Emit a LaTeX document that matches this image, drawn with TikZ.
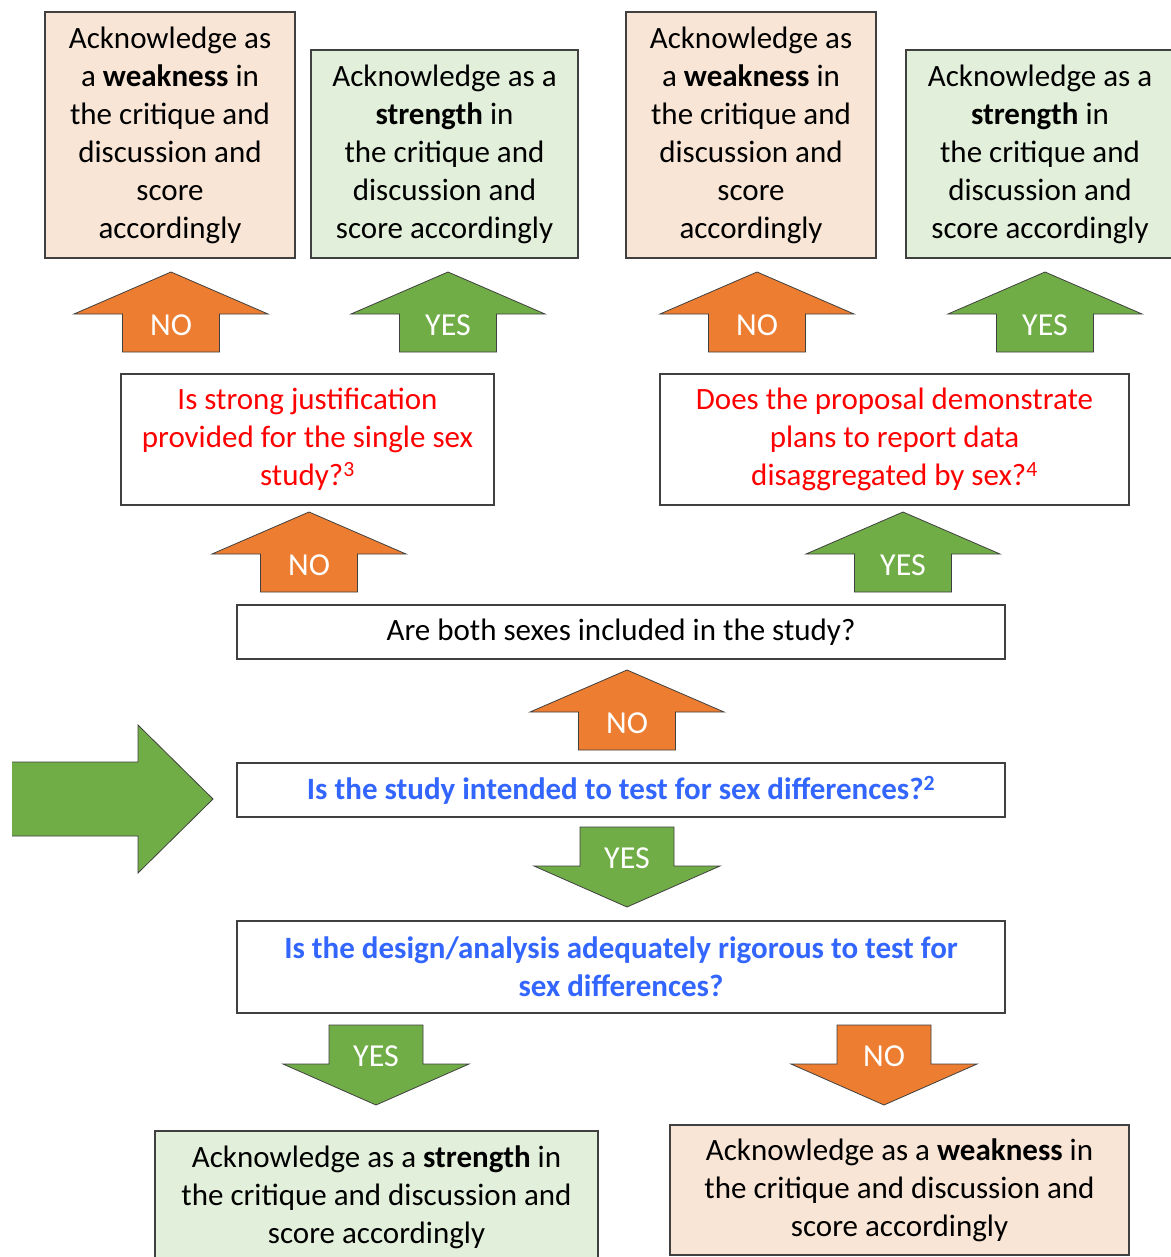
\documentclass[tikz,border=0pt]{standalone}
\usepackage{fontspec}
\setmainfont{Carlito}
\definecolor{arrorange}{HTML}{ED7D31}
\definecolor{arrgreen}{HTML}{70AD47}
\definecolor{weakfill}{HTML}{F8E5D5}
\definecolor{strongfill}{HTML}{E2EFDA}
\definecolor{qblue}{HTML}{3366FF}
\definecolor{qred}{HTML}{FF0000}
\definecolor{edge}{HTML}{404040}
\tikzset{
  box/.style={draw=edge, line width=1.4pt, align=center, inner sep=0pt,
    font=\fontsize{31}{38}\selectfont},
  weakbox/.style={box, fill=weakfill},
  strongbox/.style={box, fill=strongfill},
  arrlabel/.style={text=white, font=\fontsize{32}{36}\selectfont},
}
\begin{document}
\begin{tikzpicture}[x=1pt, y=-1pt]
\useasboundingbox (0,0) rectangle (1170,1257);
\fill[white] (0,0) rectangle (1170,1257);
% top row of verdict boxes
\node[weakbox, minimum width=250, minimum height=246] (weakA) at (170,135)
  {Acknowledge as\\ a \textbf{weakness} in\\ the critique and\\ discussion and\\ score\\ accordingly};
\node[strongbox, minimum width=267, minimum height=208] (strongA) at (444.5,154)
  {Acknowledge as a\\ \textbf{strength} in\\ the critique and\\ discussion and\\ score accordingly};
\node[weakbox, minimum width=250, minimum height=246] (weakB) at (751,135)
  {Acknowledge as\\ a \textbf{weakness} in\\ the critique and\\ discussion and\\ score\\ accordingly};
\node[strongbox, minimum width=268, minimum height=208] (strongB) at (1040,154)
  {Acknowledge as a\\ \textbf{strength} in\\ the critique and\\ discussion and\\ score accordingly};
% questions
\node[box, text=qred, minimum width=373, minimum height=131] (justif) at (307.5,439.5)
  {Is strong justification\\ provided for the single sex\\ study?\textsuperscript{3}};
\node[box, text=qred, minimum width=469, minimum height=131] (disagg) at (894.5,439.5)
  {Does the proposal demonstrate\\ plans to report data\\ disaggregated by sex?\textsuperscript{4}};
\node[box, minimum width=768, minimum height=54] (bothsex) at (621,632)
  {Are both sexes included in the study?};
\node[box, text=qblue, minimum width=768, minimum height=54] (intended) at (621,790)
  {\textbf{Is the study intended to test for sex differences?\textsuperscript{2}}};
\node[box, text=qblue, minimum width=768, minimum height=92] (rigorous) at (621,967)
  {\textbf{Is the design/analysis adequately rigorous to test for}\\ \textbf{sex differences?}};
% bottom verdict boxes
\node[strongbox, minimum width=443, minimum height=132] (strongC) at (376.5,1197)
  {Acknowledge as a \textbf{strength} in\\ the critique and discussion and\\ score accordingly};
\node[weakbox, minimum width=459, minimum height=130] (weakC) at (899.5,1190)
  {Acknowledge as a \textbf{weakness} in\\ the critique and discussion and\\ score accordingly};
% start arrow
\fill[arrgreen] (12,762) -- (138,762) -- (138,725) -- (213,799) -- (138,873) -- (138,836) -- (12,836) -- cycle;
\draw[edge, line width=0.8pt] (12,762) -- (138,762) -- (138,725) -- (213,799) -- (138,873) -- (138,836) -- (12,836);
% up arrows
\foreach \cx/\ty/\col/\lab [count=\i] in {171/272/arrorange/NO, 448/272/arrgreen/YES,
    757/272/arrorange/NO, 1045/272/arrgreen/YES, 309/512/arrorange/NO,
    903/512/arrgreen/YES, 627/670/arrorange/NO}{
  \draw[edge, line width=0.8pt, fill=\col] (\cx,\ty) -- (\cx+97,\ty+42) -- (\cx+48.5,\ty+42)
    -- (\cx+48.5,\ty+80) -- (\cx-48.5,\ty+80) -- (\cx-48.5,\ty+42) -- (\cx-97,\ty+42) -- cycle;
  \node[arrlabel] (up\i) at (\cx,\ty+53) {\lab};
}
% down arrows
\foreach \cx/\ty/\col/\lab [count=\i] in {627/827/arrgreen/YES,
    376/1025/arrgreen/YES, 884/1025/arrorange/NO}{
  \draw[edge, line width=0.8pt, fill=\col] (\cx-47,\ty) -- (\cx+47,\ty) -- (\cx+47,\ty+39)
    -- (\cx+93,\ty+39) -- (\cx,\ty+80) -- (\cx-93,\ty+39) -- (\cx-47,\ty+39) -- cycle;
  \node[arrlabel] (down\i) at (\cx,\ty+31) {\lab};
}
\end{tikzpicture}
\end{document}
